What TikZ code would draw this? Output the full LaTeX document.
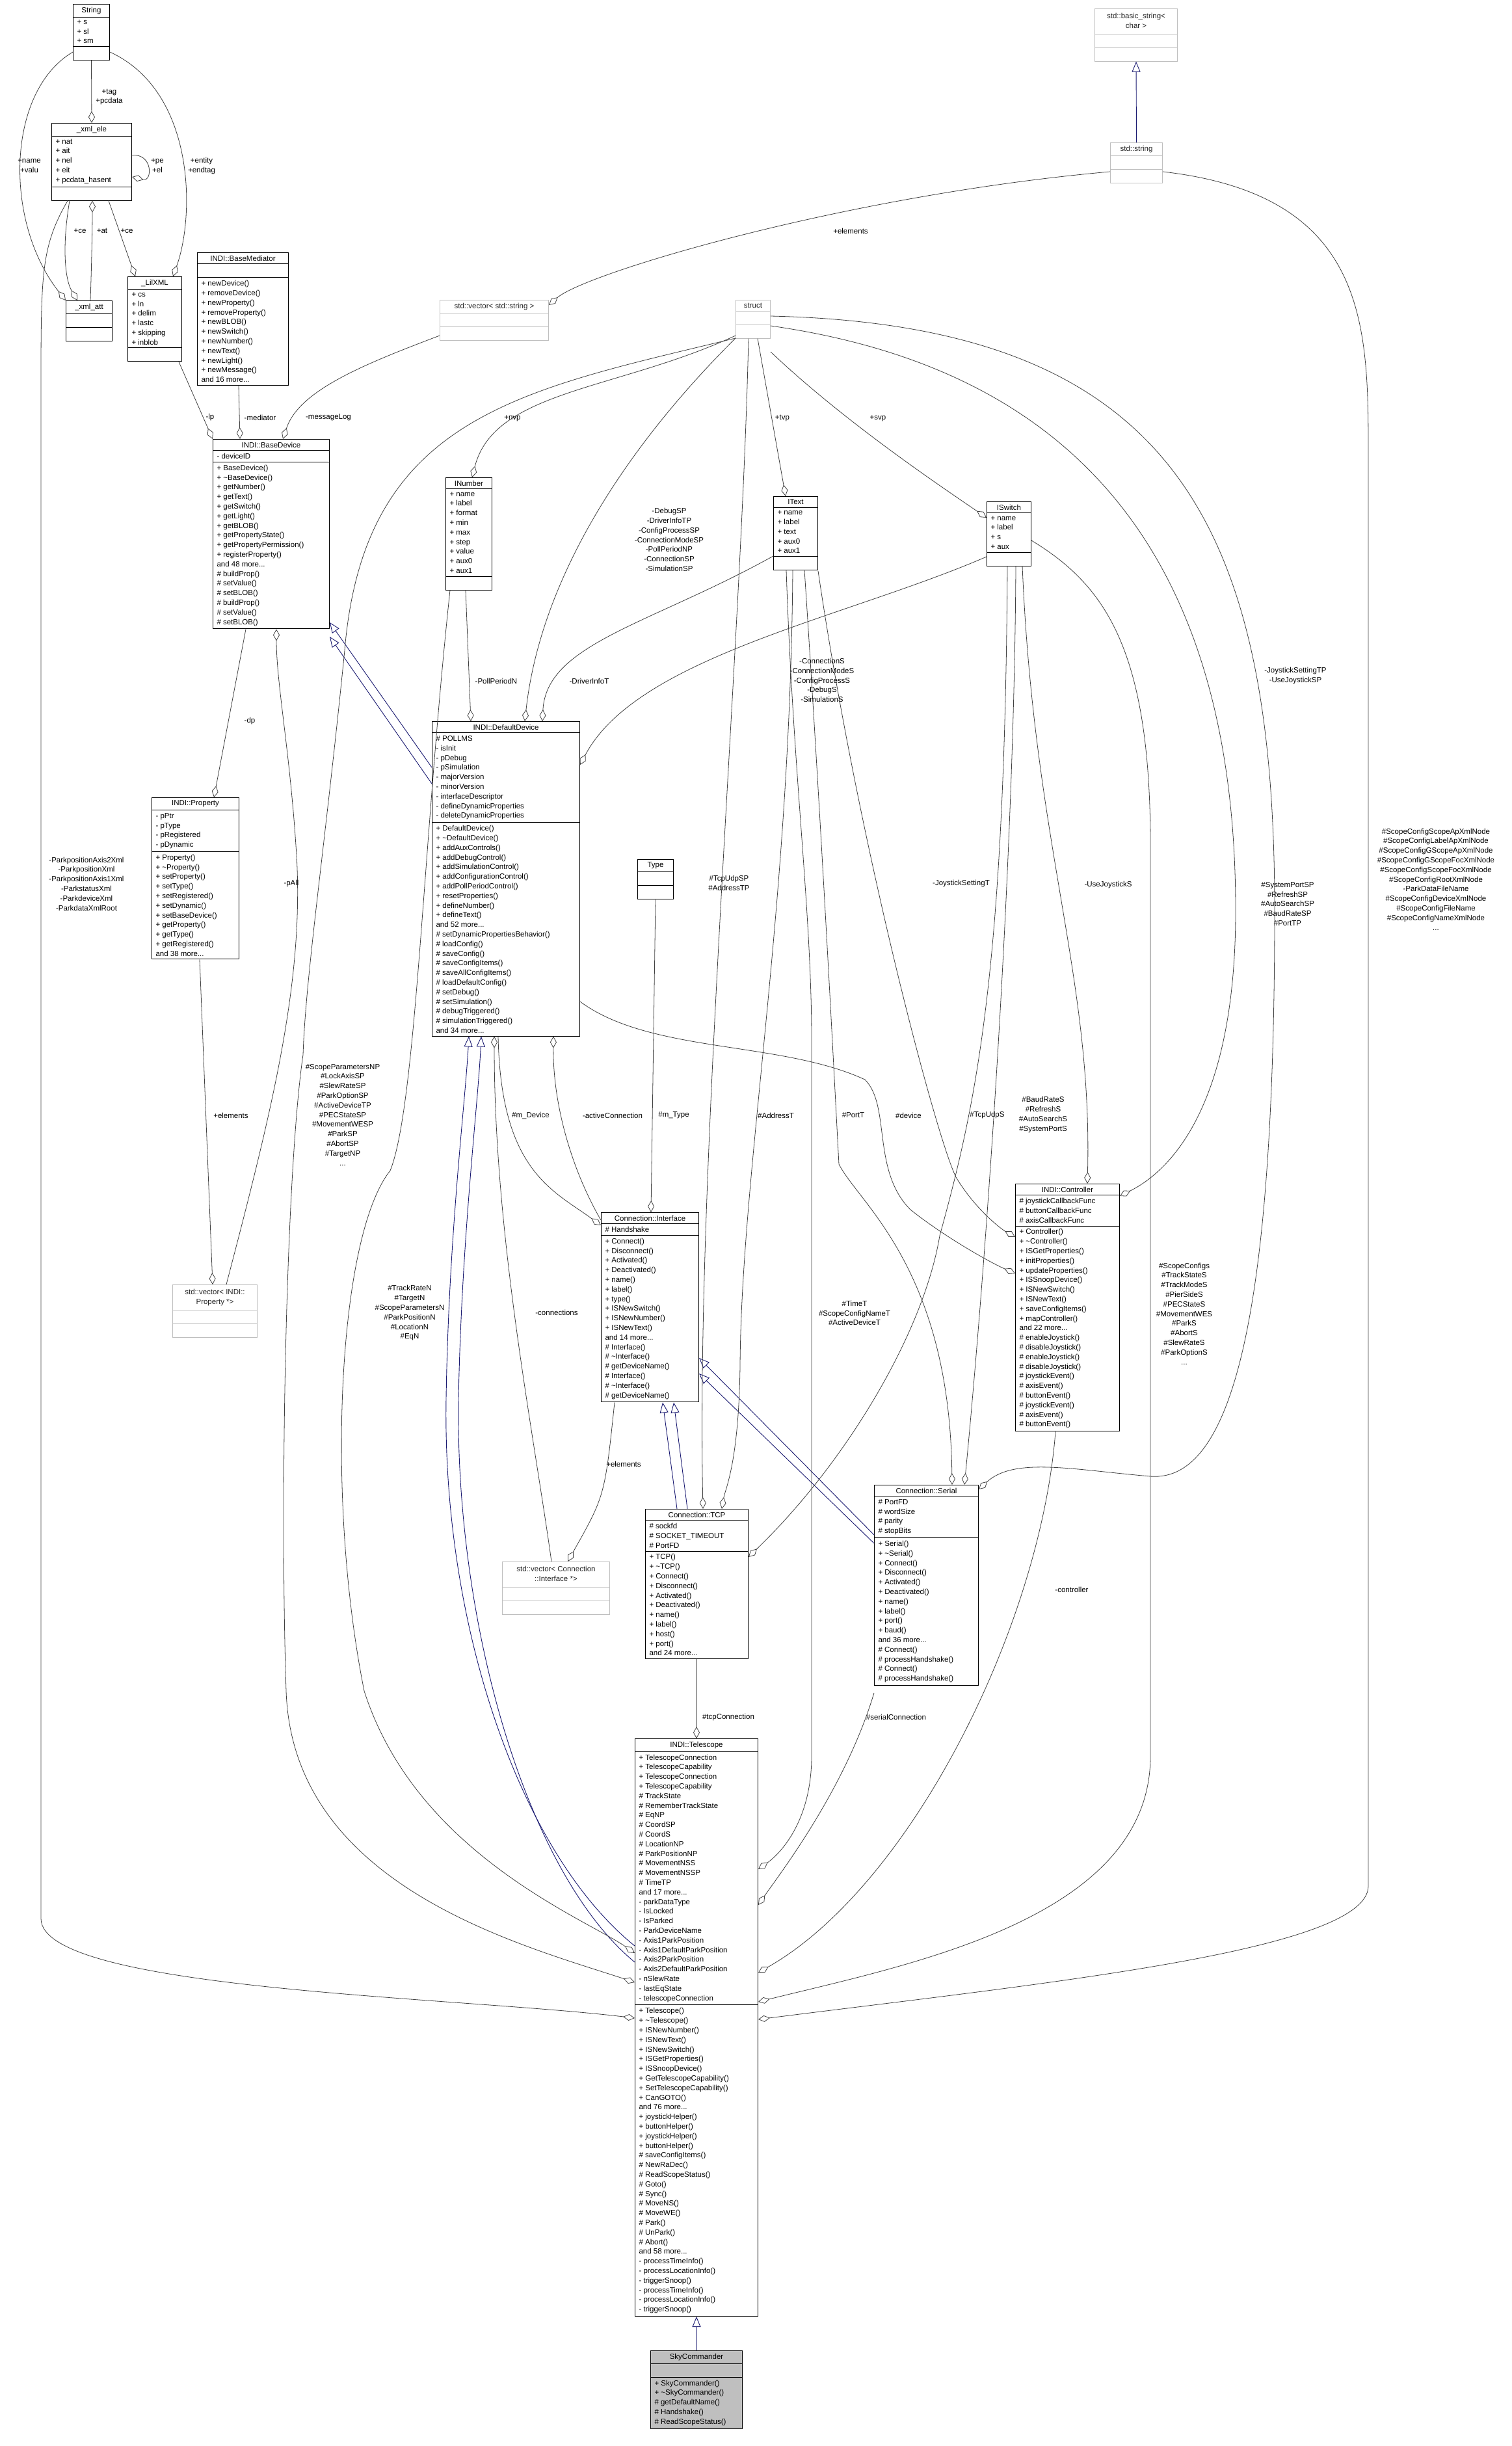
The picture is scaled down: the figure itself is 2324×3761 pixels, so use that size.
\documentclass[tikz,border=0pt]{standalone}
\usepackage{fontspec}
\setmainfont{Liberation Sans}
\usetikzlibrary{shapes.multipart,arrows.meta,positioning}
\newcommand{\dx}{\fontsize{11.5}{14.8}\selectfont}
\newcommand{\tl}{\textasciitilde}
\definecolor{edgegray}{HTML}{404040}
\definecolor{isablue}{HTML}{191970}
\tikzset{
  classbox/.style={draw=black, line width=1pt, fill=white, rectangle split, rectangle split parts=3,
    rectangle split part align={center,left,left}, rectangle split empty part height=12pt,
    anchor=north west, inner xsep=6pt, inner ysep=4pt, align=left, font=\dx},
  tmplbox/.style={classbox, draw=black!25, text=black!85},
  uses/.style={draw=edgegray, line width=0.8pt, -{Diamond[open,length=18pt,width=10pt]}},
  isa/.style={draw=isablue, line width=0.9pt, -{Triangle[open,length=16pt,width=13pt]}},
  lbl/.style={font=\dx, align=center, inner sep=0pt}
}
\begin{document}
\begin{tikzpicture}[x=1pt,y=-1pt]
\useasboundingbox (0,0) rectangle (2324,3761);

%classes
\node[classbox, minimum width=56pt] (string) at (112,6) {String \nodepart{second} + s\\+ sl\\+ sm \nodepart{third}};
\node[classbox, minimum width=123pt] (xmlele) at (79,189) {\_xml\_ele \nodepart{second} + nat\\+ ait\\+ nel\\+ eit\\+ pcdata\_hasent \nodepart{third}};
\node[classbox, minimum width=71pt] (xmlatt) at (101,462) {\_xml\_att \nodepart{second} \nodepart{third}};
\node[classbox, minimum width=83pt] (lilxml) at (196,425) {\_LilXML \nodepart{second} + cs\\+ ln\\+ delim\\+ lastc\\+ skipping\\+ inblob \nodepart{third}};
\node[classbox, minimum width=140pt] (basemed) at (303,388) {INDI::BaseMediator \nodepart{second} \nodepart{third} + newDevice()\\+ removeDevice()\\+ newProperty()\\+ removeProperty()\\+ newBLOB()\\+ newSwitch()\\+ newNumber()\\+ newText()\\+ newLight()\\+ newMessage()\\and 16 more...};
\node[classbox, minimum width=179pt] (basedev) at (327,675) {INDI::BaseDevice \nodepart{second} - deviceID \nodepart{third} + BaseDevice()\\+ \tl BaseDevice()\\+ getNumber()\\+ getText()\\+ getSwitch()\\+ getLight()\\+ getBLOB()\\+ getPropertyState()\\+ getPropertyPermission()\\+ registerProperty()\\and 48 more...\\\# buildProp()\\\# setValue()\\\# setBLOB()\\\# buildProp()\\\# setValue()\\\# setBLOB()};
\node[tmplbox, minimum width=167pt] (vecstr) at (676,461) {std::vector< std::string > \nodepart{second} \nodepart{third}};
\node[tmplbox, minimum width=53pt] (struct) at (1131,461) {struct \nodepart{second} \nodepart{third}};
\node[tmplbox, minimum width=127pt] (basicstr) at (1683,13) {\begin{tabular}{@{}c@{}}std::basic\_string<\\char >\end{tabular} \nodepart{second} \nodepart{third}};
\node[tmplbox, minimum width=80pt] (stdstr) at (1707,219) {std::string \nodepart{second} \nodepart{third}};
\node[classbox, minimum width=71pt] (inumber) at (685,734) {INumber \nodepart{second} + name\\+ label\\+ format\\+ min\\+ max\\+ step\\+ value\\+ aux0\\+ aux1 \nodepart{third}};
\node[classbox, minimum width=68pt] (itext) at (1189,763) {IText \nodepart{second} + name\\+ label\\+ text\\+ aux0\\+ aux1 \nodepart{third}};
\node[classbox, minimum width=68pt] (iswitch) at (1517,771) {ISwitch \nodepart{second} + name\\+ label\\+ s\\+ aux \nodepart{third}};
\node[classbox, minimum width=134pt] (property) at (233,1226) {INDI::Property \nodepart{second} - pPtr\\- pType\\- pRegistered\\- pDynamic \nodepart{third} + Property()\\+ \tl Property()\\+ setProperty()\\+ setType()\\+ setRegistered()\\+ setDynamic()\\+ setBaseDevice()\\+ getProperty()\\+ getType()\\+ getRegistered()\\and 38 more...};
\node[tmplbox, minimum width=130pt] (vecprop) at (265,1975) {\begin{tabular}{@{}c@{}}std::vector< INDI::\\Property *>\end{tabular} \nodepart{second} \nodepart{third}};
\node[classbox, minimum width=227pt] (defdev) at (664,1109) {INDI::DefaultDevice \nodepart{second} \# POLLMS\\- isInit\\- pDebug\\- pSimulation\\- majorVersion\\- minorVersion\\- interfaceDescriptor\\- defineDynamicProperties\\- deleteDynamicProperties \nodepart{third} + DefaultDevice()\\+ \tl DefaultDevice()\\+ addAuxControls()\\+ addDebugControl()\\+ addSimulationControl()\\+ addConfigurationControl()\\+ addPollPeriodControl()\\+ resetProperties()\\+ defineNumber()\\+ defineText()\\and 52 more...\\\# setDynamicPropertiesBehavior()\\\# loadConfig()\\\# saveConfig()\\\# saveConfigItems()\\\# saveAllConfigItems()\\\# loadDefaultConfig()\\\# setDebug()\\\# setSimulation()\\\# debugTriggered()\\\# simulationTriggered()\\and 34 more...};
\node[classbox, minimum width=55pt] (type) at (980,1321) {Type \nodepart{second} \nodepart{third}};
\node[classbox, minimum width=150pt] (iface) at (924,1864) {Connection::Interface \nodepart{second} \# Handshake \nodepart{third} + Connect()\\+ Disconnect()\\+ Activated()\\+ Deactivated()\\+ name()\\+ label()\\+ type()\\+ ISNewSwitch()\\+ ISNewNumber()\\+ ISNewText()\\and 14 more...\\\# Interface()\\\# \tl Interface()\\\# getDeviceName()\\\# Interface()\\\# \tl Interface()\\\# getDeviceName()};
\node[tmplbox, minimum width=165pt] (vecif) at (772,2401) {\begin{tabular}{@{}c@{}}std::vector< Connection\\::Interface *>\end{tabular} \nodepart{second} \nodepart{third}};
\node[classbox, minimum width=158pt] (tcp) at (992,2320) {Connection::TCP \nodepart{second} \# sockfd\\\# SOCKET\_TIMEOUT\\\# PortFD \nodepart{third} + TCP()\\+ \tl TCP()\\+ Connect()\\+ Disconnect()\\+ Activated()\\+ Deactivated()\\+ name()\\+ label()\\+ host()\\+ port()\\and 24 more...};
\node[classbox, minimum width=160pt] (serial) at (1344,2283) {Connection::Serial \nodepart{second} \# PortFD\\\# wordSize\\\# parity\\\# stopBits \nodepart{third} + Serial()\\+ \tl Serial()\\+ Connect()\\+ Disconnect()\\+ Activated()\\+ Deactivated()\\+ name()\\+ label()\\+ port()\\+ baud()\\and 36 more...\\\# Connect()\\\# processHandshake()\\\# Connect()\\\# processHandshake()};
\node[classbox, minimum width=160pt] (ctrl) at (1561,1820) {INDI::Controller \nodepart{second} \# joystickCallbackFunc\\\# buttonCallbackFunc\\\# axisCallbackFunc \nodepart{third} + Controller()\\+ \tl Controller()\\+ ISGetProperties()\\+ initProperties()\\+ updateProperties()\\+ ISSnoopDevice()\\+ ISNewSwitch()\\+ ISNewText()\\+ saveConfigItems()\\+ mapController()\\and 22 more...\\\# enableJoystick()\\\# disableJoystick()\\\# enableJoystick()\\\# disableJoystick()\\\# joystickEvent()\\\# axisEvent()\\\# buttonEvent()\\\# joystickEvent()\\\# axisEvent()\\\# buttonEvent()};
\node[classbox, minimum width=189pt] (tel) at (976,2673) {INDI::Telescope \nodepart{second} + TelescopeConnection\\+ TelescopeCapability\\+ TelescopeConnection\\+ TelescopeCapability\\\# TrackState\\\# RememberTrackState\\\# EqNP\\\# CoordSP\\\# CoordS\\\# LocationNP\\\# ParkPositionNP\\\# MovementNSS\\\# MovementNSSP\\\# TimeTP\\and 17 more...\\- parkDataType\\- IsLocked\\- IsParked\\- ParkDeviceName\\- Axis1ParkPosition\\- Axis1DefaultParkPosition\\- Axis2ParkPosition\\- Axis2DefaultParkPosition\\- nSlewRate\\- lastEqState\\- telescopeConnection \nodepart{third} + Telescope()\\+ \tl Telescope()\\+ ISNewNumber()\\+ ISNewText()\\+ ISNewSwitch()\\+ ISGetProperties()\\+ ISSnoopDevice()\\+ GetTelescopeCapability()\\+ SetTelescopeCapability()\\+ CanGOTO()\\and 76 more...\\+ joystickHelper()\\+ buttonHelper()\\+ joystickHelper()\\+ buttonHelper()\\\# saveConfigItems()\\\# NewRaDec()\\\# ReadScopeStatus()\\\# Goto()\\\# Sync()\\\# MoveNS()\\\# MoveWE()\\\# Park()\\\# UnPark()\\\# Abort()\\and 58 more...\\- processTimeInfo()\\- processLocationInfo()\\- triggerSnoop()\\- processTimeInfo()\\- processLocationInfo()\\- triggerSnoop()};
\node[classbox, fill=black!25, minimum width=141pt, anchor=north, below=52pt of tel] (sky) {SkyCommander \nodepart{second} \nodepart{third} + SkyCommander()\\+ \tl SkyCommander()\\\# getDefaultName()\\\# Handshake()\\\# ReadScopeStatus()};

%inheritance
\draw[isa] (stdstr.north) -- (basicstr.south);
\draw[isa] ([yshift=-71]defdev.north west) -- ([yshift=-282]basedev.north east);
\draw[isa] ([yshift=-96]defdev.north west) -- ([yshift=-304]basedev.north east);
\draw[isa] ([yshift=-319]tel.north west) .. controls (800,2850) and (680,2500) .. (686,2150) .. controls (690,1900) and (715,1700) .. ([xshift=57]defdev.south west);
\draw[isa] ([yshift=-344]tel.north west) .. controls (810,2880) and (700,2500) .. (705,2150) .. controls (710,1900) and (735,1700) .. ([xshift=76]defdev.south west);
\draw[isa] ([xshift=49]tcp.north west) -- ([xshift=95]iface.south west);
\draw[isa] ([xshift=65]tcp.north west) -- ([xshift=112]iface.south west);
\draw[isa] ([yshift=-77]serial.north west) -- ([yshift=-224]iface.north east);
\draw[isa] ([yshift=-90]serial.north west) -- ([yshift=-248]iface.north east);
\draw[isa] (sky.north) -- (tel.south);

%xml
\draw[uses] (string.south) -- (xmlele.north);
\draw[uses] ([yshift=-74]string.north west) .. controls (10,140) and (5,340) .. (xmlatt.north west);
\draw[uses] ([yshift=-74]string.north east) .. controls (300,140) and (300,330) .. ([xshift=-14]lilxml.north east);
\draw[uses] ([yshift=-50]xmlele.north east) .. controls (235,235) and (235,280) .. ([yshift=-83]xmlele.north east);
\draw[uses] ([xshift=28]xmlele.south west) .. controls (95,380) and (100,430) .. ([xshift=18]xmlatt.north west);
\draw[uses] ([xshift=38]xmlatt.north west) .. controls (141,400) and (142,350) .. ([xshift=63]xmlele.south west);
\draw[uses] ([xshift=88]xmlele.south west) -- ([xshift=12]lilxml.north west);
\draw[uses] ([xshift=-5]lilxml.south east) -- (basedev.north west);
\draw[uses] ([xshift=64]basemed.south west) -- ([xshift=42]basedev.north west);
\draw[uses] ([yshift=-55]vecstr.north west) .. controls (560,560) and (460,600) .. ([xshift=108]basedev.north west);
\draw[uses] ([yshift=-45]stdstr.north west) .. controls (1300,300) and (900,420) .. ([yshift=-8]vecstr.north east);
\draw[uses] ([yshift=-45]stdstr.north east) .. controls (2104,300) and (2104,500) .. (2104,700) -- (2104,2900) .. controls (2104,3000) and (1600,3050) .. ([yshift=-432]tel.north east);
\draw[uses] ([xshift=25]xmlele.south west) .. controls (63,380) and (63,420) .. (63,600) -- (63,2950) .. controls (63,3060) and (700,3070) .. ([yshift=-430]tel.north west);

%properties
\draw[uses] ([xshift=74]property.south west) -- ([xshift=62]vecprop.north west);
\draw[uses] ([xshift=83]vecprop.north west) .. controls (420,1700) and (470,1500) .. (455,1300) .. controls (445,1150) and (425,1050) .. ([xshift=98]basedev.south west);
\draw[uses] ([xshift=51]basedev.south west) -- ([xshift=96]property.north west);
\draw[uses] ([xshift=31]inumber.south west) -- ([xshift=60]defdev.north west);
\draw[uses] ([yshift=-59]struct.north west) .. controls (950,700) and (830,900) .. ([xshift=143]defdev.north west);
\draw[uses] ([yshift=-92]itext.north west) .. controls (1000,960) and (840,990) .. ([xshift=170]defdev.north west);
\draw[uses] ([yshift=-85]iswitch.north west) .. controls (1300,950) and (980,1010) .. ([yshift=-67]defdev.north east);
\draw[uses] ([yshift=-55]struct.north west) .. controls (950,600) and (760,600) .. ([xshift=41]inumber.north west);
\draw[uses] ([xshift=34]struct.south west) -- ([xshift=19]itext.north west);
\draw[uses] ([yshift=-80]struct.north east) .. controls (1300,650) and (1450,750) .. ([yshift=-25]iswitch.north west);
\draw[uses] ([yshift=-59]struct.north west) .. controls (800,600) and (560,640) .. (530,1000) .. controls (500,1300) and (470,1500) .. (466,1622) .. controls (440,1800) and (430,2300) .. (440,2600) .. controls (450,2900) and (800,2990) .. ([yshift=-375]tel.north west);
\draw[uses] ([xshift=7]inumber.south west) .. controls (650,1300) and (640,1700) .. (600,1800) .. controls (520,1900) and (500,2300) .. (560,2600) .. controls (640,2850) and (900,2950) .. ([yshift=-330]tel.north west);

%connections
\draw[uses] ([xshift=102]defdev.south west) .. controls (770,1800) and (850,1830) .. ([yshift=-20]iface.north west);
\draw[uses] ([yshift=-12]iface.north west) .. controls (880,1800) and (850,1700) .. ([xshift=187]defdev.south west);
\draw[uses] ([xshift=76]vecif.north west) .. controls (820,2200) and (760,1900) .. ([xshift=96]defdev.south west);
\draw[uses] (type.south) -- ([xshift=77]iface.north west);
\draw[uses] ([xshift=21]iface.south west) .. controls (930,2300) .. ([xshift=101]vecif.north west);
\draw[uses] ([xshift=79]tcp.south west) -- ([xshift=95]tel.north west);
\draw[uses] ([yshift=-320]serial.north west) .. controls (1300,2750) and (1200,2880) .. ([yshift=-256]tel.north east);
\draw[uses] ([xshift=20]struct.south west) .. controls (1140,1000) and (1070,1800) .. ([xshift=89]tcp.north west);
\draw[uses] ([xshift=30]itext.south west) .. controls (1215,1400) and (1140,1800) .. (1138,2100) .. controls (1136,2250) and (1115,2290) .. ([xshift=118]tcp.north west);
\draw[uses] ([xshift=32]iswitch.south west) .. controls (1545,1500) and (1500,1700) .. (1445,1900) .. controls (1420,2050) and (1300,2250) .. ([yshift=-74]tcp.north east);
\draw[uses] ([xshift=48]itext.south west) .. controls (1265,1300) and (1285,1700) .. (1290,1790) .. controls (1320,1850) and (1460,1950) .. ([xshift=120]serial.north west);
\draw[uses] ([xshift=45]iswitch.south west) .. controls (1560,1300) and (1520,1900) .. ([xshift=139]serial.north west);
\draw[uses] ([yshift=-115]itext.north east) .. controls (1320,1300) and (1440,1750) .. (1470,1810) .. controls (1500,1860) and (1540,1890) .. ([yshift=-82]ctrl.north west);
\draw[uses] ([xshift=55]iswitch.south west) .. controls (1590,1300) and (1680,1500) .. ([xshift=111]ctrl.north west);
\draw[uses] ([yshift=-431]defdev.north east) .. controls (1000,1620) and (1200,1600) .. (1330,1660) .. controls (1370,1700) and (1340,1800) .. (1400,1860) .. controls (1450,1900) and (1520,1940) .. ([yshift=-138]ctrl.north west);
\draw[uses] ([yshift=-40]struct.north east) .. controls (1600,560) and (1900,800) .. (1900,1400) .. controls (1900,1700) and (1800,1800) .. ([yshift=-19]ctrl.north east);
\draw[uses] ([yshift=-25]struct.north east) .. controls (1800,500) and (1960,800) .. (1960,1400) .. controls (1960,2000) and (1900,2280) .. (1769,2270) .. controls (1650,2260) and (1560,2240) .. ([yshift=-7]serial.north east);
\draw[uses] ([yshift=-60]iswitch.north east) .. controls (1700,900) and (1769,1000) .. (1769,1300) -- (1769,2700) .. controls (1769,2950) and (1400,3020) .. ([yshift=-405]tel.north east);
\draw[uses] ([xshift=62]ctrl.south west) .. controls (1600,2500) and (1400,2900) .. ([yshift=-360]tel.north east);
\draw[uses] ([xshift=20]itext.south west) .. controls (1220,1200) and (1248,1400) .. (1248,1600) -- (1248,2700) .. controls (1248,2800) and (1200,2850) .. ([yshift=-201]tel.north east);

%labels
\node[lbl] (l01) at (168,149) {+tag\\+pcdata};
\node[lbl] (l02) at (45,255) {+name\\+valu};
\node[lbl] (l03) at (242,255) {+pe\\+el};
\node[lbl] (l04) at (310,255) {+entity\\+endtag};
\node[lbl] (l05) at (123,355) {+ce};
\node[lbl] (l06) at (157,355) {+at};
\node[lbl] (l07) at (195,355) {+ce};
\node[lbl] (l08) at (323,642) {-lp};
\node[lbl] (l09) at (400,642) {-mediator};
\node[lbl] (l10) at (505,642) {-messageLog};
\node[lbl] (l11) at (1308,355) {+elements};
\node[lbl] (l12) at (788,643) {+nvp};
\node[lbl] (l13) at (1203,643) {+tvp};
\node[lbl] (l14) at (1350,643) {+svp};
\node[lbl] (l15) at (1029,830) {-DebugSP\\-DriverInfoTP\\-ConfigProcessSP\\-ConnectionModeSP\\-PollPeriodNP\\-ConnectionSP\\-SimulationSP};
\node[lbl] (l16) at (763,1047) {-PollPeriodN};
\node[lbl] (l17) at (906,1047) {-DriverInfoT};
\node[lbl] (l18) at (1264,1046) {-ConnectionS\\-ConnectionModeS\\-ConfigProcessS\\-DebugS\\-SimulationS};
\node[lbl] (l19) at (384,1109) {-dp};
\node[lbl] (l20) at (448,1359) {-pAll};
\node[lbl] (l21) at (133,1359) {-ParkpositionAxis2Xml\\-ParkpositionXml\\-ParkpositionAxis1Xml\\-ParkstatusXml\\-ParkdeviceXml\\-ParkdataXmlRoot};
\node[lbl] (l22) at (1992,1039) {-JoystickSettingTP\\-UseJoystickSP};
\node[lbl] (l23) at (1980,1390) {\#SystemPortSP\\\#RefreshSP\\\#AutoSearchSP\\\#BaudRateSP\\\#PortTP};
\node[lbl] (l24) at (2208,1352) {\#ScopeConfigScopeApXmlNode\\\#ScopeConfigLabelApXmlNode\\\#ScopeConfigGScopeApXmlNode\\\#ScopeConfigGScopeFocXmlNode\\\#ScopeConfigScopeFocXmlNode\\\#ScopeConfigRootXmlNode\\-ParkDataFileName\\\#ScopeConfigDeviceXmlNode\\\#ScopeConfigFileName\\\#ScopeConfigNameXmlNode\\...};
\node[lbl] (l25) at (1121,1358) {\#TcpUdpSP\\\#AddressTP};
\node[lbl] (l26) at (1478,1359) {-JoystickSettingT};
\node[lbl] (l27) at (1704,1361) {-UseJoystickS};
\node[lbl] (l28) at (355,1715) {+elements};
\node[lbl] (l29) at (527,1714) {\#ScopeParametersNP\\\#LockAxisSP\\\#SlewRateSP\\\#ParkOptionSP\\\#ActiveDeviceTP\\\#PECStateSP\\\#MovementWESP\\\#ParkSP\\\#AbortSP\\\#TargetNP\\...};
\node[lbl] (l30) at (816,1715) {\#m\_Device};
\node[lbl] (l31) at (942,1715) {-activeConnection};
\node[lbl] (l32) at (1036,1715) {\#m\_Type};
\node[lbl] (l33) at (1193,1715) {\#AddressT};
\node[lbl] (l34) at (1312,1715) {\#PortT};
\node[lbl] (l35) at (1397,1715) {\#device};
\node[lbl] (l36) at (1518,1715) {\#TcpUdpS};
\node[lbl] (l37) at (1604,1714) {\#BaudRateS\\\#RefreshS\\\#AutoSearchS\\\#SystemPortS};
\node[lbl] (l38) at (1821,2020) {\#ScopeConfigs\\\#TrackStateS\\\#TrackModeS\\\#PierSideS\\\#PECStateS\\\#MovementWES\\\#ParkS\\\#AbortS\\\#SlewRateS\\\#ParkOptionS\\...};
\node[lbl] (l39) at (856,2018) {-connections};
\node[lbl] (l40) at (1314,2019) {\#TimeT\\\#ScopeConfigNameT\\\#ActiveDeviceT};
\node[lbl] (l41) at (630,2019) {\#TrackRateN\\\#TargetN\\\#ScopeParametersN\\\#ParkPositionN\\\#LocationN\\\#EqN};
\node[lbl] (l42) at (959,2251) {+elements};
\node[lbl] (l43) at (1648,2444) {-controller};
\node[lbl] (l44) at (1120,2640) {\#tcpConnection};
\node[lbl] (l45) at (1378,2640) {\#serialConnection};
\end{tikzpicture}
\end{document}
